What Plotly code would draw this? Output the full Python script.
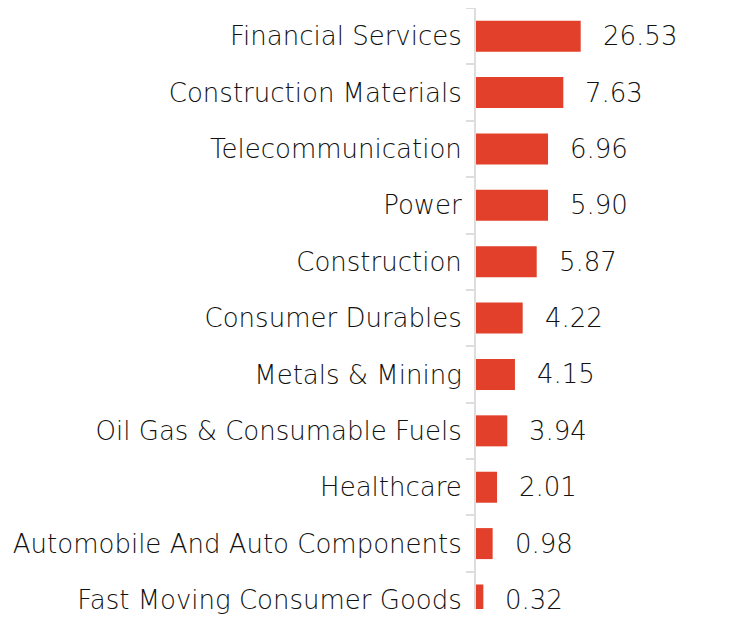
import plotly.graph_objects as go

categories = [
    "Financial Services",
    "Construction Materials",
    "Telecommunication",
    "Power",
    "Construction",
    "Consumer Durables",
    "Metals & Mining",
    "Oil Gas & Consumable Fuels",
    "Healthcare",
    "Automobile And Auto Components",
    "Fast Moving Consumer Goods",
]
values = [26.53, 7.63, 6.96, 5.90, 5.87, 4.22, 4.15, 3.94, 2.01, 0.98, 0.32]
value_labels = ["26.53", "7.63", "6.96", "5.90", "5.87", "4.22", "4.15", "3.94", "2.01", "0.98", "0.32"]
# Bar lengths as drawn in the reference (relative to the longest bar = 100);
# the original chart does not draw the bars proportionally to the values.
bar_lengths = [100, 83.4, 68.8, 68.8, 58.0, 44.6, 37.2, 29.9, 20.1, 15.9, 7.0]

BAR_COLOR = "#E2402A"
TEXT_COLOR = "#111111"
FONT = "DejaVu Sans"
FONT_SIZE = 26
FONT_WEIGHT = 300

fig = go.Figure()
fig.add_trace(go.Bar(
    x=bar_lengths,
    y=categories,
    orientation="h",
    marker=dict(color=BAR_COLOR, line=dict(width=0)),
    width=0.55,
    hoverinfo="skip",
    customdata=values,
))

for cat, blen, lab in zip(categories, bar_lengths, value_labels):
    fig.add_annotation(
        x=blen, y=cat, xref="x", yref="y",
        text=lab, showarrow=False, xanchor="left", yanchor="middle",
        xshift=20,
        font=dict(family=FONT, size=FONT_SIZE, weight=FONT_WEIGHT, color=TEXT_COLOR),
    )

fig.update_layout(
    width=720, height=606,
    margin=dict(l=468, r=0, t=0, b=5),
    plot_bgcolor="white", paper_bgcolor="white",
    showlegend=False,
)
fig.update_xaxes(
    range=[0, 240.7], visible=False, showgrid=False, zeroline=False,
)
fig.update_yaxes(
    categoryorder="array", categoryarray=categories,
    range=[10.16, -0.5],
    showline=True, linecolor="#DDDDDD", linewidth=2,
    ticks="outside", tickson="boundaries", ticklen=8, tickcolor="#DDDDDD", tickwidth=2,
    showgrid=False, zeroline=False,
    tickfont=dict(family=FONT, size=FONT_SIZE, weight=FONT_WEIGHT, color=TEXT_COLOR),
    ticklabelstandoff=7,
)

fig.write_html("out.html")
